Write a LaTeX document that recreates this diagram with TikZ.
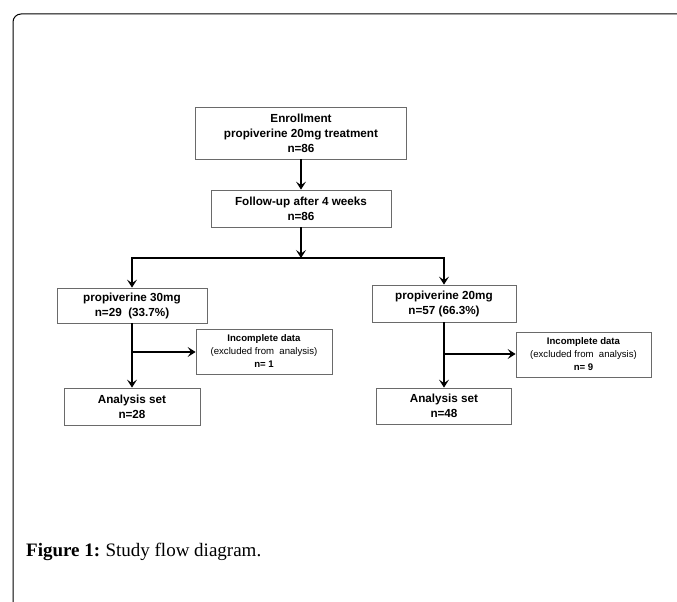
\documentclass[tikz,border=0pt]{standalone}
\usepackage{fontspec}
\setmainfont{Liberation Serif}
\newfontfamily\boxfont{Liberation Sans}
\usetikzlibrary{arrows.meta}
\definecolor{boxline}{HTML}{6A6A6A}
\tikzset{
  flowbox/.style={draw=boxline, line width=0.8pt, align=center, inner sep=0pt,
    font=\boxfont\bfseries\fontsize{11.7}{15}\selectfont},
  smallbox/.style={draw=boxline, line width=0.8pt, align=center, inner sep=0pt,
    font=\boxfont\fontsize{9.6}{13}\selectfont},
  flowarrow/.style={line width=1.8pt, -{Stealth[length=8pt,width=10pt,inset=3.5pt]}},
  flowline/.style={line width=1.8pt},
}
\begin{document}
\begin{tikzpicture}[x=1pt,y=-1pt]
\useasboundingbox (0,0) rectangle (677,602);
\draw[line width=1pt, rounded corners=8pt] (13,602) -- (13,14) -- (677,14);

\node[flowbox, minimum width=211pt, minimum height=52pt] (enroll) at (301,133)
  {Enrollment\\propiverine 20mg treatment\\n=86};
\node[flowbox, minimum width=180pt, minimum height=37pt] (follow) at (301,208.5)
  {Follow-up after 4 weeks\\n=86};
\node[flowbox, minimum width=150pt, minimum height=35pt] (left) at (132,305.5)
  {propiverine 30mg\\n=29~~(33.7\%)};
\node[flowbox, minimum width=144pt, minimum height=37pt] (right) at (444,303.5)
  {propiverine 20mg\\n=57 (66.3\%)};
\node[smallbox, minimum width=136pt, minimum height=45pt] (incL) at (264,351.5)
  {\textbf{Incomplete data}\\(excluded from~ analysis)\\\textbf{n= 1}};
\node[smallbox, minimum width=135pt, minimum height=45pt] (incR) at (583.5,354.5)
  {\textbf{Incomplete data}\\(excluded from~ analysis)\\\textbf{n= 9}};
\node[flowbox, minimum width=136pt, minimum height=37pt] (anaL) at (132,406.5)
  {Analysis set\\n=28};
\node[flowbox, minimum width=135pt, minimum height=36pt] (anaR) at (444,406)
  {Analysis set\\n=48};

\coordinate (split) at (301,258);
\coordinate (splitL) at (132,258);
\coordinate (splitR) at (444,258);
\coordinate (brL) at (132,352);
\coordinate (brR) at (444,354);

\draw[flowarrow] (enroll.south) -- (follow.north);
\draw[flowarrow] (follow.south) -- (split);
\draw[flowline, line cap=rect] (splitL) -- (splitR);
\draw[flowarrow] (splitL) -- (left.north);
\draw[flowarrow] (splitR) -- (right.north);
\draw[flowarrow] (left.south) -- (anaL.north);
\draw[flowarrow] (right.south) -- (anaR.north);
\draw[flowarrow] (brL) -- (incL.west|-brL);
\draw[flowarrow] (brR) -- (incR.west|-brR);

\node[anchor=base west, inner sep=0pt, font=\fontsize{19}{22}\selectfont] (cap) at (26,556)
  {\textbf{Figure 1:}\hspace{-1pt} Study flow diagram.};
\end{tikzpicture}
\end{document}
